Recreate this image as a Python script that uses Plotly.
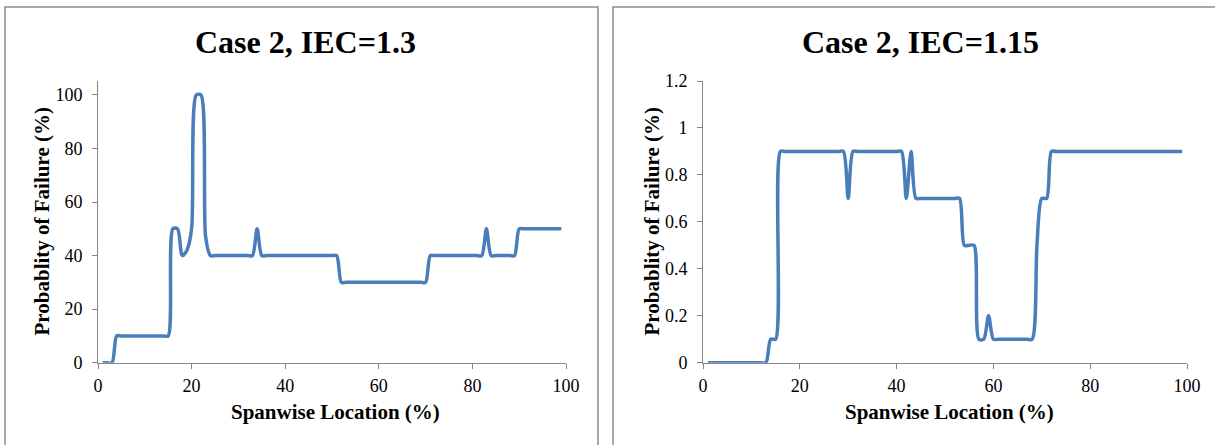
import plotly.graph_objects as go

# ---- data ----
span_left = list(range(1, 100))
pof_left_pts = {
    1: 0, 2: 0, 3: 0, 4: 10, 15: 10, 16: 50, 17: 50, 18: 40, 19: 42, 20: 50,
    21: 100, 22: 100, 23: 47, 24: 40, 33: 40, 34: 50, 35: 40, 51: 40, 52: 30,
    70: 30, 71: 40, 82: 40, 83: 50, 84: 40, 89: 40, 90: 50, 99: 50,
}
span_right = list(range(1, 100))
pof_right_pts = {
    1: 0, 13: 0, 14: 0.1, 15: 0.1, 16: 0.9, 29: 0.9, 30: 0.7, 31: 0.9, 41: 0.9,
    42: 0.7, 43: 0.9, 44: 0.7, 53: 0.7, 54: 0.5, 56: 0.5, 57: 0.1, 58: 0.1,
    59: 0.2, 60: 0.1, 68: 0.1, 69: 0.5, 70: 0.7, 71: 0.7, 72: 0.9, 99: 0.9,
}


def step_fill(xs, pts):
    # hold the last read value until the next read point (plateaus)
    out, last = [], None
    for x in xs:
        if x in pts:
            last = pts[x]
        out.append(last)
    return out


pof_left = step_fill(span_left, pof_left_pts)
pof_right = step_fill(span_right, pof_right_pts)

titles = ["Case 2, IEC=1.3", "Case 2, IEC=1.15"]
x_title = "Spanwise Location (%)"
y_title = "Probablity of Failure (%)"
x_ticks = [0, 20, 40, 60, 80, 100]
y_ticks_left = [0, 20, 40, 60, 80, 100]
y_ticks_right = [0, 0.2, 0.4, 0.6, 0.8, 1, 1.2]
y_ticktext_right = ["0", "0.2", "0.4", "0.6", "0.8", "1", "1.2"]

W, H = 1215, 445
LINE = "#4A7EBB"
AX = "#868686"
FONT = "Liberation Serif"


def px(x):
    return x / W


def py(y):
    return 1 - y / H


fig = go.Figure()
fig.add_trace(go.Scatter(x=span_left, y=pof_left, mode="lines", xaxis="x", yaxis="y",
                         line=dict(color=LINE, width=3.5, shape="spline", smoothing=0.8),
                         showlegend=False, hoverinfo="x+y"))
fig.add_trace(go.Scatter(x=span_right, y=pof_right, mode="lines", xaxis="x2", yaxis="y2",
                         line=dict(color=LINE, width=3.5, shape="spline", smoothing=0.8),
                         showlegend=False, hoverinfo="x+y"))

axis_common = dict(showline=True, linecolor=AX, linewidth=1, ticks="outside", tickcolor=AX,
                   ticklen=5, tickwidth=1, showgrid=False, zeroline=False, automargin=False,
                   tickfont=dict(family=FONT, size=18, color="#000000"))

fig.update_layout(
    template="none",
    autosize=False,
    width=W, height=H, margin=dict(l=0, r=0, t=0, b=0, pad=0, autoexpand=False),
    paper_bgcolor="white", plot_bgcolor="white",
    xaxis=dict(domain=[px(98), px(566)], range=[0, 100], tickvals=x_ticks, anchor="y",
               ticklabelstandoff=2, **axis_common),
    yaxis=dict(domain=[py(362.7), py(81)], range=[0, 105.2], tickvals=y_ticks_left, anchor="x",
               ticklabelstandoff=6, **axis_common),
    xaxis2=dict(domain=[px(703), px(1187)], range=[0, 100], tickvals=x_ticks, anchor="y2",
                ticklabelstandoff=2, **axis_common),
    yaxis2=dict(domain=[py(362.7), py(81)], range=[0, 1.2], tickvals=y_ticks_right,
                ticktext=y_ticktext_right, anchor="x2", ticklabelstandoff=6, **axis_common),
)

# panel borders
for x0, x1 in [(5, 598), (613, 1240)]:
    fig.add_shape(type="rect", xref="paper", yref="paper", x0=px(x0), x1=px(x1), y0=py(470), y1=py(7),
                  line=dict(color="#8C8C8C", width=1.5), fillcolor="rgba(0,0,0,0)", layer="below")

# titles
for t, cx in zip(titles, [305, 921]):
    fig.add_annotation(text=f"<b>{t}</b>", x=px(cx), y=py(42), xref="paper", yref="paper",
                       showarrow=False, xanchor="center", yanchor="middle",
                       font=dict(family=FONT, size=32, color="#000000"))
for cx in [335, 949]:
    fig.add_annotation(text=f"<b>{x_title}</b>", x=px(cx), y=py(412), xref="paper", yref="paper",
                       showarrow=False, xanchor="center", yanchor="middle",
                       font=dict(family=FONT, size=21, color="#000000"))
for cx in [41, 651]:
    fig.add_annotation(text=f"<b>{y_title}</b>", x=px(cx), y=py(221.5), xref="paper", yref="paper",
                       showarrow=False, xanchor="center", yanchor="middle", textangle=-90,
                       font=dict(family=FONT, size=21, color="#000000"))

fig.write_html(
    "out.html",
    config={"displayModeBar": False},
    post_script="document.body.style.margin='0';document.body.style.overflow='hidden';"
                "document.documentElement.style.overflow='hidden';",
)
